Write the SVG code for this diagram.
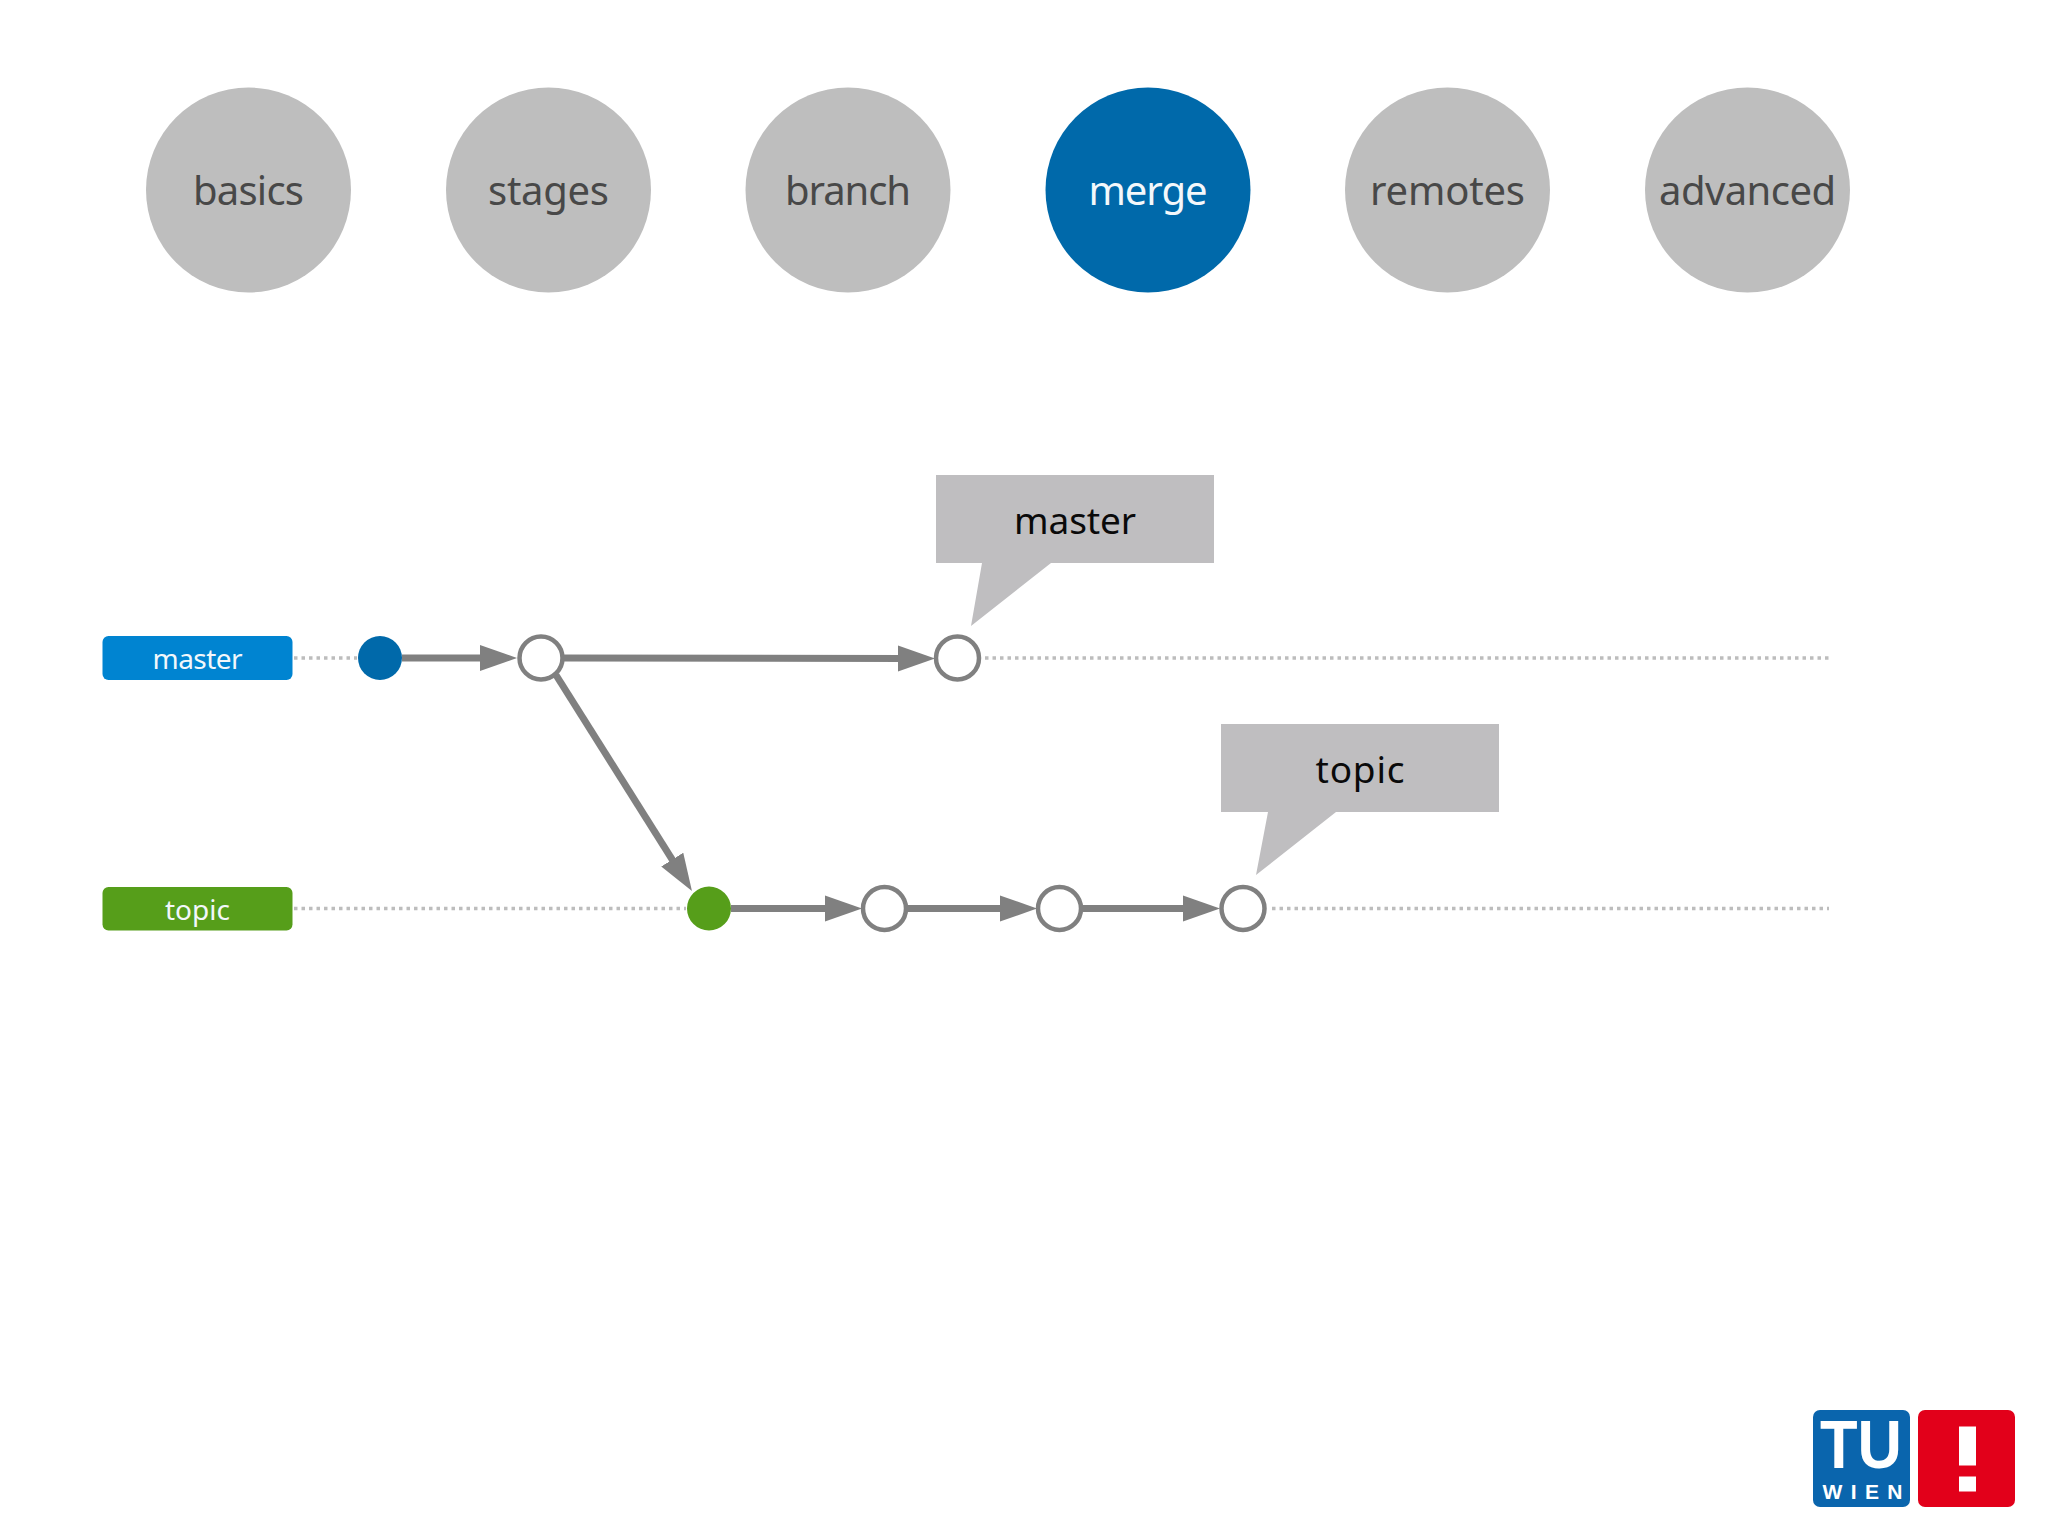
<svg xmlns="http://www.w3.org/2000/svg" width="2048" height="1535" viewBox="0 0 2048 1535">
<style>
text{font-family:"Noto Sans","Open Sans",sans-serif;text-anchor:middle}
.nav{fill:#bebebe}
.navt{font-size:40px;fill:#484848}
.lab{font-size:28px;fill:#f2f7fb}
.call{fill:#bfbec0}
.callt{font-size:37px;fill:#0a0a0a}
.edge{stroke:#808080;stroke-width:7;fill:none;marker-end:url(#arr)}
.dot{stroke:#bdbdbd;stroke-width:3.5;stroke-dasharray:3.5 4;fill:none}
.open{fill:#fff;stroke:#808080;stroke-width:4.5}
</style>
<defs>
<marker id="arr" markerUnits="userSpaceOnUse" markerWidth="40" markerHeight="28" refX="8" refY="14" orient="auto"><path d="M0 1L37 14L0 27Z" fill="#808080"/></marker>
</defs>
<rect width="2048" height="1535" fill="#fff"/>
<g id="nav-basics"><circle class="nav" cx="248.5" cy="190" r="102.5"/><text class="navt" x="248.5" y="205" textLength="111">basics</text></g>
<g id="nav-stages"><circle class="nav" cx="548.5" cy="190" r="102.5"/><text class="navt" x="548.5" y="205" textLength="121">stages</text></g>
<g id="nav-branch"><circle class="nav" cx="848" cy="190" r="102.5"/><text class="navt" x="848" y="205" textLength="126">branch</text></g>
<g id="nav-merge"><circle cx="1148" cy="190" r="102.5" fill="#0069aa"/><text class="navt" x="1148" y="205" textLength="119" style="fill:#f4f8fb">merge</text></g>
<g id="nav-remotes"><circle class="nav" cx="1447.5" cy="190" r="102.5"/><text class="navt" x="1447.5" y="205" textLength="155">remotes</text></g>
<g id="nav-advanced"><circle class="nav" cx="1747.5" cy="190" r="102.5"/><text class="navt" x="1747.5" y="205" textLength="177">advanced</text></g>
<g id="connectors">
<path class="dot" d="M294 658H357"/>
<path class="dot" d="M985 658H1829"/>
<path class="dot" d="M294 908.5H686"/>
<path class="dot" d="M1272 908.5H1829"/>
<path class="edge" d="M402 658H488"/>
<path class="edge" d="M563 658L906 658.5"/>
<path class="edge" d="M556 675L676.5 866.4"/>
<path class="edge" d="M731 908.5H833"/>
<path class="edge" d="M907 908.5H1008"/>
<path class="edge" d="M1083 908.5H1191"/>
</g>
<g id="label-master"><rect x="102.5" y="636" width="190" height="44" rx="6" fill="#0084d1"/><text class="lab" x="197.5" y="669" textLength="90">master</text></g>
<g id="label-topic"><rect x="102.5" y="887" width="190" height="43.5" rx="6" fill="#569e1a"/><text class="lab" x="197.5" y="920" textLength="65">topic</text></g>
<g id="commit-1"><circle cx="380" cy="658" r="22" fill="#0069aa"/></g>
<g id="commit-2"><circle class="open" cx="541" cy="658" r="21.5"/></g>
<g id="commit-3"><circle class="open" cx="957.5" cy="658" r="21.5"/></g>
<g id="commit-4"><circle cx="709" cy="908.5" r="22" fill="#569e1a"/></g>
<g id="commit-5"><circle class="open" cx="884.5" cy="908.5" r="21.5"/></g>
<g id="commit-6"><circle class="open" cx="1059.5" cy="908.5" r="21.5"/></g>
<g id="commit-7"><circle class="open" cx="1243" cy="908.5" r="21.5"/></g>
<g id="callout-master"><path class="call" d="M936 475H1214V563H1051L971 626L982 563H936Z"/><text class="callt" x="1075" y="534" textLength="122">master</text></g>
<g id="callout-topic"><path class="call" d="M1221 724H1499V812H1336L1256 875L1268 812H1221Z"/><text class="callt" x="1360" y="783" textLength="89">topic</text></g>
<g id="logo">
<rect x="1813" y="1410" width="97" height="97" rx="7" fill="#0a65ad"/>
<rect x="1918" y="1410" width="97" height="97" rx="7" fill="#e2001a"/>
<text x="1861" y="1468" font-size="68" font-weight="700" fill="#fff" textLength="82" lengthAdjust="spacingAndGlyphs" style="font-family:'Liberation Sans',sans-serif">TU</text>
<text x="1862.5" y="1498.5" font-size="21" font-weight="700" fill="#fff" textLength="80" style="font-family:'Liberation Sans',sans-serif">WIEN</text>
<rect x="1959" y="1426.5" width="17" height="39" fill="#fff"/>
<rect x="1959" y="1476.5" width="17" height="15" fill="#fff"/>
</g>
</svg>
